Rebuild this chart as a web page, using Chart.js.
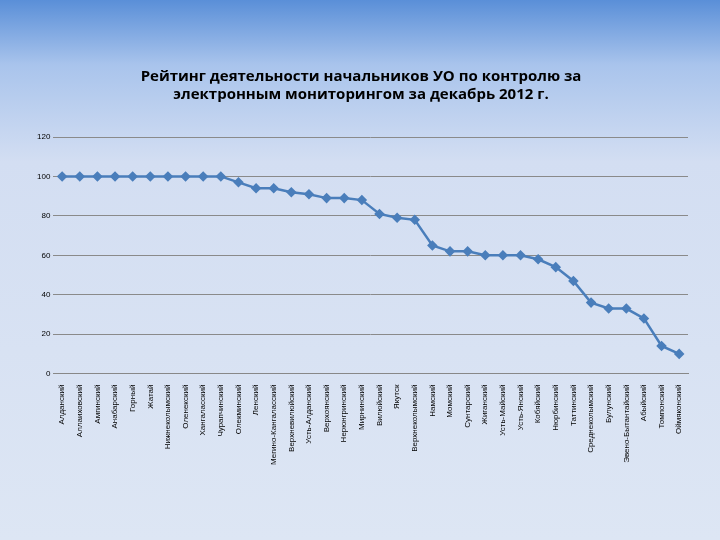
<!DOCTYPE html><html><head><meta charset="utf-8">
<script src="https://cdn.jsdelivr.net/npm/chart.js@4"></script>
<style>html,body{margin:0;padding:0}body{width:720px;height:540px;background:linear-gradient(#5a8fd8 0%,#a9c4ec 12%,#d3def2 30%,#dde6f4 100%)}#w{position:absolute;left:0;top:0;width:720px;height:540px}</style>
</head><body><div id="w"><canvas id="c"></canvas></div><script>
const categories=["Алданский","Аллаиховский","Амгинский","Анабарский","Горный","Жатай","Нижнеколымский","Оленекский","Хангаласский","Чурапчинский","Олекминский","Ленский","Мегино-Кангаласский","Верхневилюйский","Усть-Алданский","Верхоянский","Нерюнгринский","Мирнинский","Вилюйский","Якутск","Верхнеколымский","Намский","Момский","Сунтарский","Жиганский","Усть-Майский","Усть-Янский","Кобяйский","Нюрбинский","Таттинский","Среднеколымский","Булунский","Эвено-Бытантайский","Абыйский","Томпонский","Оймяконский"];
const values=[100,100,100,100,100,100,100,100,100,100,97,94,94,92,91,89,89,88,81,79,78,65,62,62,60,60,60,58,54,47,36,33,33,28,14,10];
new Chart(document.getElementById('c'),{type:'line',data:{labels:categories,datasets:[{data:values,borderColor:'#4a7ebb',backgroundColor:'#4a7ebb',borderWidth:2.5,pointStyle:'rectRot',pointRadius:3.5,tension:0}]},
options:{responsive:true,maintainAspectRatio:false,animation:false,
layout:{padding:{left:34,right:32,top:68,bottom:72}},
plugins:{legend:{display:false},tooltip:{enabled:false},title:{display:true,text:['Рейтинг деятельности начальников УО по контролю за','электронным мониторингом за декабрь 2012 г.'],color:'#000',font:{family:'Open Sans',size:15,weight:'bold'},padding:{bottom:33}}},
scales:{x:{offset:true,grid:{display:false},border:{color:'#888'},ticks:{color:'#000',font:{family:'Arial',size:8},maxRotation:90,minRotation:90,autoSkip:false}},
y:{min:0,max:120,ticks:{stepSize:20,color:'#000',font:{family:'Arial',size:8}},grid:{color:'#8a8a8a',drawTicks:false},border:{display:false}}}}});
</script></body></html>
